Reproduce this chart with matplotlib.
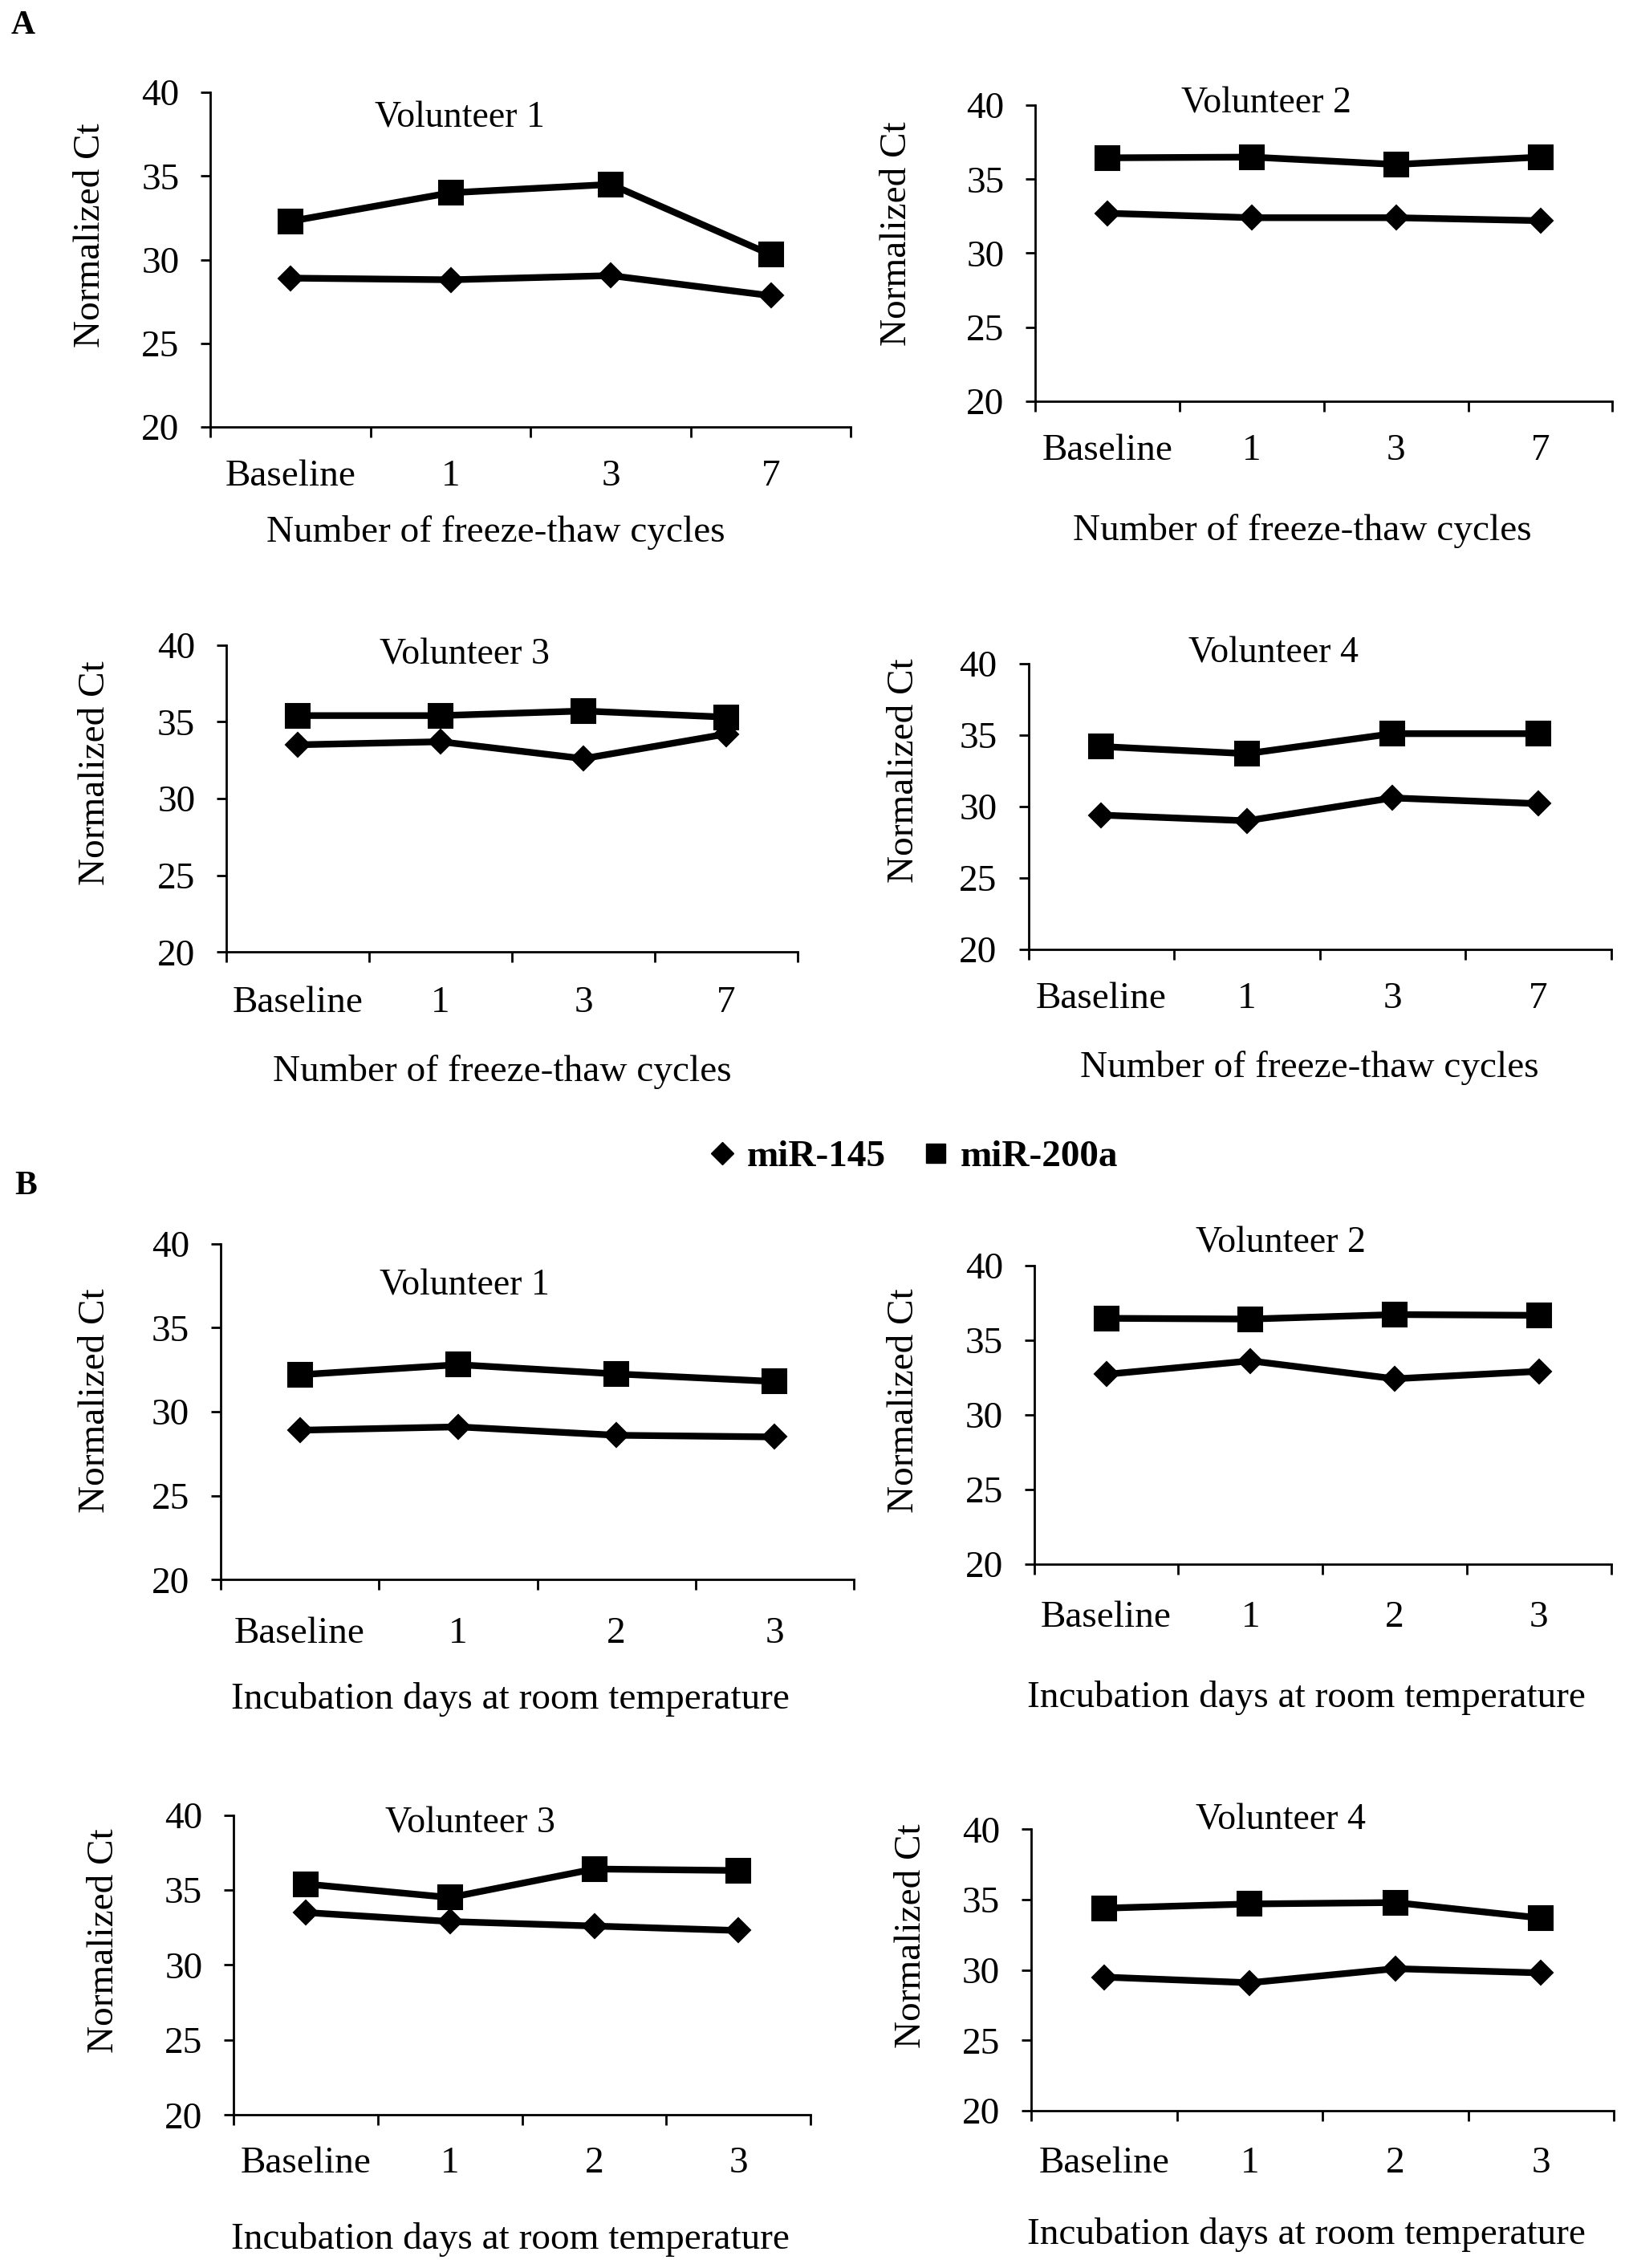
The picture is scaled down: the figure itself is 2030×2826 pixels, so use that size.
import matplotlib
matplotlib.use('Agg')
import matplotlib.pyplot as plt
from matplotlib.lines import Line2D
from matplotlib.ticker import FixedLocator, NullFormatter

plt.rcParams['font.family'] = ['Liberation Serif', 'DejaVu Serif']

# ---------------- data ----------------
freeze_labels = ['Baseline', '1', '3', '7']
incub_labels = ['Baseline', '1', '2', '3']
freeze_xlabel = 'Number of freeze-thaw cycles'
incub_xlabel = 'Incubation days at room temperature'
ylabel = 'Normalized Ct'
volunteers = ['Volunteer 1', 'Volunteer 2', 'Volunteer 3', 'Volunteer 4']
yticks = [20, 25, 30, 35, 40]
series_names = ['miR-145', 'miR-200a']

# A: freeze-thaw cycles
ft_v1_mir145 = [28.9, 28.8, 29.05, 27.85]
ft_v1_mir200a = [32.3, 34.0, 34.5, 30.3]
ft_v2_mir145 = [32.7, 32.4, 32.4, 32.2]
ft_v2_mir200a = [36.45, 36.5, 36.0, 36.5]
ft_v3_mir145 = [33.5, 33.7, 32.6, 34.2]
ft_v3_mir200a = [35.4, 35.4, 35.7, 35.3]
ft_v4_mir145 = [29.4, 29.0, 30.6, 30.2]
ft_v4_mir200a = [34.2, 33.7, 35.1, 35.1]

# B: incubation days at room temperature
rt_v1_mir145 = [28.9, 29.1, 28.6, 28.5]
rt_v1_mir200a = [32.2, 32.8, 32.25, 31.8]
rt_v2_mir145 = [32.7, 33.6, 32.4, 32.9]
rt_v2_mir200a = [36.45, 36.4, 36.7, 36.65]
rt_v3_mir145 = [33.5, 32.9, 32.6, 32.3]
rt_v3_mir200a = [35.4, 34.5, 36.4, 36.3]
rt_v4_mir145 = [29.5, 29.1, 30.1, 29.8]
rt_v4_mir200a = [34.4, 34.7, 34.8, 33.7]

panels = [
    (ft_v1_mir145, ft_v1_mir200a, freeze_labels, freeze_xlabel, volunteers[0]),
    (ft_v2_mir145, ft_v2_mir200a, freeze_labels, freeze_xlabel, volunteers[1]),
    (ft_v3_mir145, ft_v3_mir200a, freeze_labels, freeze_xlabel, volunteers[2]),
    (ft_v4_mir145, ft_v4_mir200a, freeze_labels, freeze_xlabel, volunteers[3]),
    (rt_v1_mir145, rt_v1_mir200a, incub_labels, incub_xlabel, volunteers[0]),
    (rt_v2_mir145, rt_v2_mir200a, incub_labels, incub_xlabel, volunteers[1]),
    (rt_v3_mir145, rt_v3_mir200a, incub_labels, incub_xlabel, volunteers[2]),
    (rt_v4_mir145, rt_v4_mir200a, incub_labels, incub_xlabel, volunteers[3]),
]

# ---------------- layout (reference layout units, 1130 x 1572) ----------------
W, H = 1130.0, 1572.0
# x0, xr, y_top(40), y_bottom(20), title(x,y), ylabel(x,y), xlabel(x,y), xtick-center offset
layout = [
    (146, 590, 64, 296, (319, 82), (63, 163), (344, 369), 37),
    (718, 1118, 73, 278, (878, 72), (622, 162), (903, 368), 37),
    (157, 553, 447, 660, (322, 454), (66, 536), (348, 743), 38),
    (713, 1117, 460, 658, (883, 453), (627, 534), (908, 740), 37),
    (153, 592, 862, 1095, (322, 891), (66, 971), (354, 1178), 40),
    (717, 1117, 877, 1084, (888, 862), (627, 971), (906, 1177), 40),
    (162, 562, 1258, 1466, (326, 1264), (72, 1345), (354, 1552), 36),
    (715, 1119, 1268, 1463, (888, 1262), (632, 1342), (906, 1549), 39),
]

FS = 34
DPU = 2031.0 / W          # output pixels per layout unit

fig = plt.figure(figsize=(20.31, 28.26), dpi=100)


def fx(x):
    return x / W


def fy(y):
    return 1 - y / H


for (m145, m200, xlabels, xlab, title), lay in zip(panels, layout):
    x0, xr, yt, yb, txy, yl, xl, toff = lay
    ax = fig.add_axes([fx(x0), fy(yb), (xr - x0) / W, (yb - yt) / H])
    xs = list(range(len(xlabels)))
    ax.plot(xs, m145, color='black', lw=6, marker='D', ms=15, mew=1.5, zorder=3)
    ax.plot(xs, m200, color='black', lw=6, marker='s', ms=21, mew=1.5, zorder=3)
    ax.set_xlim(-0.5, len(xlabels) - 0.5)
    ax.set_ylim(20, 40)
    ax.set_yticks(yticks)
    ax.tick_params(axis='y', direction='out', length=9, width=2, pad=19, labelsize=FS)
    # category axis: major ticks at boundaries, labels at centres
    ax.xaxis.set_major_locator(FixedLocator([i - 0.5 for i in range(len(xlabels) + 1)]))
    ax.xaxis.set_major_formatter(NullFormatter())
    ax.xaxis.set_minor_locator(FixedLocator(xs))
    ax.set_xticklabels(xlabels, minor=True)
    pad_pt = (toff * DPU - 26) * 72 / 100.0
    ax.tick_params(axis='x', which='major', direction='out', length=9, width=2)
    ax.tick_params(axis='x', which='minor', length=0, pad=pad_pt, labelsize=FS)
    for s in ['top', 'right']:
        ax.spines[s].set_visible(False)
    for s in ['left', 'bottom']:
        ax.spines[s].set_linewidth(2)
    ax.set_ylabel(ylabel, fontsize=FS, va='center')
    ax.yaxis.set_label_coords(fx(yl[0]), fy(yl[1]), transform=fig.transFigure)
    ax.set_xlabel(xlab, fontsize=FS, va='center')
    ax.xaxis.set_label_coords(fx(xl[0]), fy(xl[1]), transform=fig.transFigure)
    fig.text(fx(txy[0]), fy(txy[1]), title, fontsize=FS - 1, ha='center', va='center')

fig.text(fx(16), fy(18), 'A', fontsize=30, fontweight='bold', ha='center', va='center')
fig.text(fx(18), fy(822), 'B', fontsize=30, fontweight='bold', ha='center', va='center')

handles = [
    Line2D([], [], color='black', ls='none', marker='D', ms=14),
    Line2D([], [], color='black', ls='none', marker='s', ms=17),
]
fig.legend(handles, series_names, loc='center', bbox_to_anchor=(fx(634), fy(802)),
           ncol=2, frameon=False, handlelength=0.6, handletextpad=0.35,
           columnspacing=1.0, prop={'size': FS, 'weight': 'bold'})

fig.savefig('out.png', dpi=100, facecolor='white')
